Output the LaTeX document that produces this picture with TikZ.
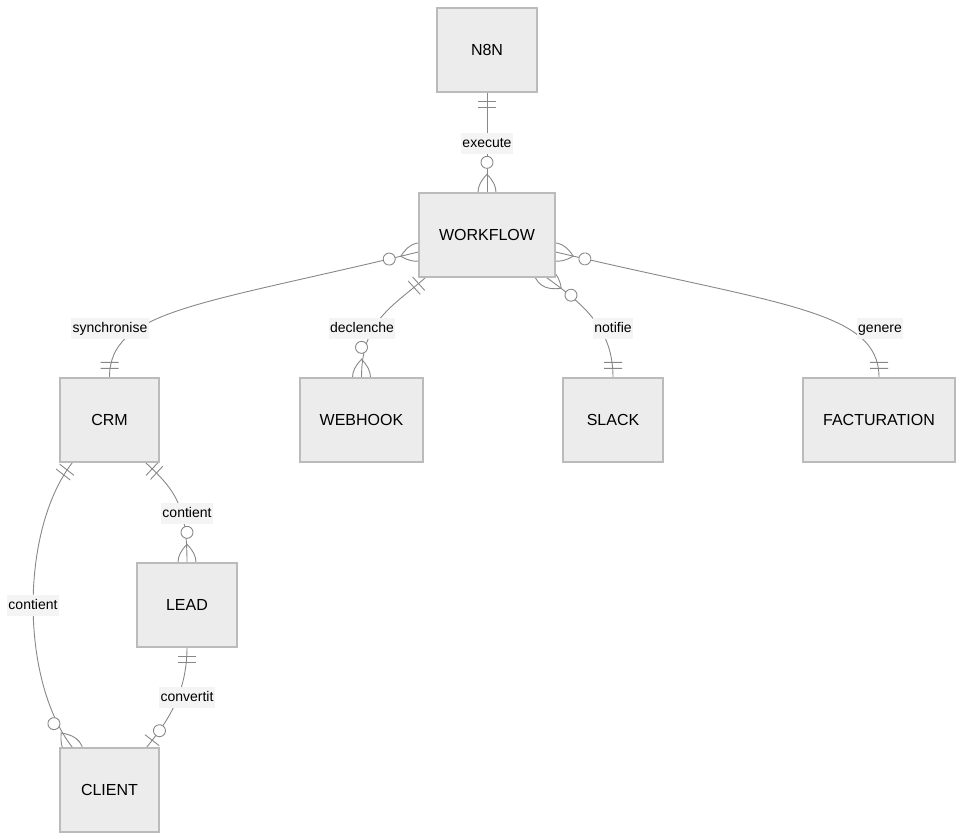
\documentclass[tikz,border=0pt]{standalone}
\usepackage{fontspec}
\setmainfont{Liberation Sans}
\usetikzlibrary{decorations.markings,backgrounds}
\definecolor{boxfill}{HTML}{ECECEC}
\definecolor{boxline}{HTML}{BBBBBB}
\definecolor{edgecol}{HTML}{888888}
\definecolor{lblbg}{HTML}{F4F4F4}
\newcommand\crowlens{\draw[mk] (-18,0) .. controls (-6,-12) and (6,-12) .. (18,0) .. controls (6,12) and (-6,12) .. cycle;}
\tikzset{
  entity/.style={draw=boxline, fill=boxfill, line width=1.3pt, minimum height=84pt, inner sep=0pt, font=\fontsize{16}{19}\selectfont},
  rel/.style={draw=edgecol, line width=0.9pt},
  mk/.style={draw=edgecol, line width=0.9pt},
  elabel/.style={fill=lblbg, inner xsep=1.5pt, inner ysep=3.5pt, text height=10.5pt, text depth=3pt, font=\fontsize{14}{17}\selectfont},
  one start/.style={postaction={decorate,decoration={markings,mark=at position 0 with {\draw[mk] (9,-9)--(9,9) (15,-9)--(15,9);}}}},
  one end/.style={postaction={decorate,decoration={markings,mark=at position 0.9999 with {\draw[mk] (-9,-9)--(-9,9) (-15,-9)--(-15,9);}}}},
  many start/.style={postaction={decorate,decoration={markings,mark=at position 0 with {\crowlens\draw[mk,fill=white] (30,0) circle[radius=6pt];}}}},
  many end/.style={postaction={decorate,decoration={markings,mark=at position 0.9999 with {\crowlens\draw[mk,fill=white] (-30,0) circle[radius=6pt];}}}},
  zeroone end/.style={postaction={decorate,decoration={markings,mark=at position 0.9999 with {\draw[mk] (-9,-9)--(-9,9);\draw[mk,fill=white] (-21,0) circle[radius=6pt];}}}},
}
\begin{document}
\begin{tikzpicture}[x=1pt,y=-1pt]
\useasboundingbox (0,0) rectangle (964,840);
\node[entity, minimum width=100pt] (n8n) at (487,50) {N8N};
\node[entity, minimum width=136pt] (wf) at (487,235) {WORKFLOW};
\node[entity, minimum width=99pt] (crm) at (109.5,420) {CRM};
\node[entity, minimum width=123pt] (webhook) at (361.5,420) {WEBHOOK};
\node[entity, minimum width=100pt] (slack) at (613,420) {SLACK};
\node[entity, minimum width=152pt] (fact) at (879,420) {FACTURATION};
\node[entity, minimum width=100pt] (lead) at (187,605) {LEAD};
\node[entity, minimum width=99pt] (client) at (109.5,790) {CLIENT};

\begin{scope}[on background layer]
\fill[white] (0,0) rectangle (964,840);
\draw[rel, one start, many end] (n8n.south) -- (wf.north);
\draw[rel, many start, one end] ([yshift=-17pt]wf.west) .. controls (200,305) and (109.5,310) .. (crm.north);
\draw[rel, one start, many end] ([xshift=7pt]wf.south west) .. controls (395,305) and (361.5,320) .. (webhook.north);
\draw[rel, many start, one end] ([xshift=-9pt]wf.south east) .. controls (586,306) and (613,330) .. (slack.north);
\draw[rel, many start, one end] ([yshift=-17pt]wf.east) .. controls (780,305) and (879,310) .. (fact.north);
\draw[rel, one start, many end] ([xshift=-14pt]crm.south east) .. controls (175,490) and (187,505) .. (lead.north);
\draw[rel, one start, many end] ([xshift=13pt]crm.south west) .. controls (20,530) and (20,680) .. ([xshift=13pt]client.north west);
\draw[rel, one start, zeroone end] (lead.south) .. controls (187,700) and (160,730) .. ([xshift=-13pt]client.north east);
\end{scope}

\node[elabel] (l1) at (487,143.5) {execute};
\node[elabel] (l2) at (110,328.5) {synchronise};
\node[elabel] (l3) at (362,328.5) {declenche};
\node[elabel] (l4) at (613,328.5) {notifie};
\node[elabel] (l5) at (880,328.5) {genere};
\node[elabel] (l6) at (187,513.5) {contient};
\node[elabel] (l7) at (33,605.5) {contient};
\node[elabel] (l8) at (187,697.5) {convertit};
\end{tikzpicture}
\end{document}
